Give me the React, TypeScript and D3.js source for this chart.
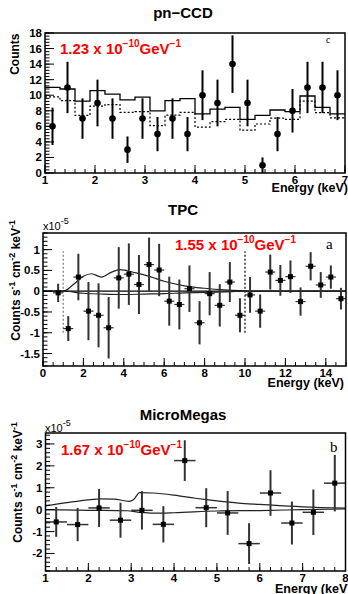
import * as d3 from "d3";

// pn-CCD: counts per 0.3 keV bin
const ccdEnergy = [1.15, 1.45, 1.75, 2.05, 2.35, 2.65, 2.95, 3.25, 3.55, 3.85, 4.15, 4.45, 4.75, 5.05, 5.35, 5.65, 5.95, 6.25, 6.55, 6.85];
const ccdCounts = [6, 11, 7, 9, 7, 3, 7, 5, 7, 5, 10, 9, 14, 9, 1, 5, 8, 11, 11, 10];
const ccdErr = [2.4, 3.3, 2.6, 3.0, 2.6, 1.7, 2.6, 2.2, 2.6, 2.2, 3.2, 3.0, 3.7, 3.0, 1.0, 2.2, 2.8, 3.3, 3.3, 3.2];
const ccdSignal = [11.0, 10.8, 9.25, 10.6, 10.15, 9.4, 9.75, 8.0, 9.3, 9.55, 7.6, 8.2, 8.45, 6.9, 7.4, 8.1, 7.9, 9.9, 8.45, 7.6];
const ccdBackground = [9.8, 9.3, 7.4, 8.6, 8.8, 7.8, 7.9, 6.1, 7.45, 7.8, 5.9, 6.6, 6.9, 5.5, 6.3, 7.05, 6.9, 9.25, 7.75, 7.1];

// TPC: subtracted rate (x1e-5)
const tpcEnergy = [0.75, 1.25, 1.75, 2.25, 2.75, 3.25, 3.75, 4.25, 4.75, 5.25, 5.75, 6.25, 6.75, 7.25, 7.75, 8.25, 8.75, 9.25, 9.75, 10.25, 10.75, 11.25, 11.75, 12.25, 12.75, 13.25, 13.75, 14.25, 14.75];
const tpcRate = [-0.04, -0.9, 0.34, -0.48, -0.58, -0.88, 0.32, 0.41, 0.16, 0.64, 0.51, -0.24, -0.32, 0.06, -0.76, -0.06, -0.34, 0.22, -0.58, -0.09, -0.48, 0.46, 0.26, 0.35, -0.25, 0.6, 0.15, 0.34, -0.18];
const tpcErr = [0.22, 0.3, 0.56, 0.7, 0.77, 0.74, 0.74, 0.74, 0.71, 0.65, 0.63, 0.59, 0.6, 0.56, 0.52, 0.52, 0.51, 0.48, 0.41, 0.43, 0.4, 0.42, 0.37, 0.39, 0.34, 0.34, 0.31, 0.28, 0.26];
const tpcSigE = [0, 1, 1.5, 2, 2.4, 2.9, 3.4, 3.8, 4.6, 5.3, 6, 7, 8, 9, 10, 11, 15];
const tpcSig = [0, 0, 0.16, 0.36, 0.42, 0.34, 0.46, 0.52, 0.44, 0.35, 0.24, 0.13, 0.07, 0.03, 0.01, 0, 0];
const tpcBgE = [0, 1, 2, 3, 4, 5, 6, 7, 8, 9, 10, 15];
const tpcBg = [0, 0, -0.05, -0.07, -0.08, -0.07, -0.06, -0.04, -0.03, -0.015, 0, 0];
const tpcCuts = [1, 10];

// MicroMegas: subtracted rate (x1e-5)
const mmEnergy = [1.25, 1.75, 2.25, 2.75, 3.25, 3.75, 4.25, 4.75, 5.25, 5.75, 6.25, 6.75, 7.25, 7.75];
const mmRate = [-0.56, -0.68, 0.08, -0.48, -0.03, -0.67, 2.24, 0.09, -0.15, -1.55, 0.76, -0.61, -0.12, 1.21];
const mmErr = [0.68, 0.76, 0.87, 0.8, 0.88, 0.83, 0.93, 0.89, 1.0, 0.93, 1.04, 0.98, 1.04, 1.29];
const mmSigE = [1, 1.5, 2, 2.3, 2.6, 2.95, 3.05, 3.2, 3.5, 4, 4.5, 5, 5.5, 6, 7, 8];
const mmSig = [0.17, 0.32, 0.45, 0.49, 0.48, 0.38, 0.45, 0.78, 0.76, 0.66, 0.52, 0.4, 0.3, 0.24, 0.13, 0.07];
const mmBgE = [1, 2, 2.9, 3.2, 3.5, 4, 5, 6, 7, 8];
const mmBg = [0, -0.03, -0.05, -0.12, -0.16, -0.14, -0.06, -0.04, 0, 0.03];

const FONT = "'Liberation Sans', Arial, Helvetica, sans-serif";
const SERIF = "'Liberation Serif', 'Times New Roman', serif";

type Scale = d3.ScaleLinear<number, number>;

function steps(lo: number, hi: number, step: number) {
  return d3.range(Math.round((hi - lo) / step) + 1).map((i) => +(lo + i * step).toFixed(4));
}

function Frame(props: {
  x: Scale; y: Scale; xMajor: number[]; xMinor: number[]; yMajor: number[]; yMinor: number[];
  yFmt?: (v: number) => string;
}) {
  const { x, y, xMajor, xMinor, yMajor, yMinor } = props;
  const fmt = props.yFmt ?? ((v: number) => String(v));
  const [x0, x1] = x.range();
  const [y0, y1] = y.range();
  return (
    <g>
      <rect x={x0} y={y1} width={x1 - x0} height={y0 - y1} fill="none" stroke="#000" strokeWidth={1.5} />
      {xMinor.map((v) => (
        <line key={"xm" + v} x1={x(v)} x2={x(v)} y1={y0} y2={y0 - 4} stroke="#000" strokeWidth={1} />
      ))}
      {xMajor.map((v) => (
        <g key={"xM" + v}>
          <line x1={x(v)} x2={x(v)} y1={y0} y2={y0 - 8} stroke="#000" strokeWidth={1} />
          <text x={x(v)} y={y0 + 11} textAnchor="middle" fontSize={11.5} fontWeight="bold" fontFamily={FONT}>{v}</text>
        </g>
      ))}
      {yMinor.map((v) => (
        <line key={"ym" + v} x1={x0} x2={x0 + 4.5} y1={y(v)} y2={y(v)} stroke="#000" strokeWidth={1} />
      ))}
      {yMajor.map((v) => (
        <g key={"yM" + v}>
          <line x1={x0} x2={x0 + 9} y1={y(v)} y2={y(v)} stroke="#000" strokeWidth={1} />
          <text x={x0 - 3} y={y(v) + 4} textAnchor="end" fontSize={11.5} fontWeight="bold" fontFamily={FONT}>{fmt(v)}</text>
        </g>
      ))}
    </g>
  );
}

function Coupling({ x, y, value }: { x: number; y: number; value: string }) {
  return (
    <text x={x} y={y} fill="#ff0000" fontSize={15} fontWeight="bold" fontFamily={FONT}>
      {value} x 10
      <tspan fontSize={10} dy={-7}>−10</tspan>
      <tspan dy={7}>GeV</tspan>
      <tspan fontSize={10} dy={-7}>−1</tspan>
    </text>
  );
}

function RateTitle({ x, top }: { x: number; top: number }) {
  return (
    <text transform={`translate(${x},${top}) rotate(-90)`} textAnchor="end" fontSize={12} fontWeight="bold" fontFamily={FONT}>
      Counts s<tspan fontSize={9} dy={-5}>-1</tspan>
      <tspan dy={5}> cm</tspan>
      <tspan fontSize={9} dy={-5}>-2</tspan>
      <tspan dy={5}> keV</tspan>
      <tspan fontSize={9} dy={-5}>-1</tspan>
    </text>
  );
}

function Exponent({ x, y }: { x: number; y: number }) {
  return (
    <text x={x} y={y} fontSize={11} fontFamily={FONT}>
      x10<tspan fontSize={9} dy={-6}>-5</tspan>
    </text>
  );
}

export default function App() {
  // pn-CCD panel
  const x1 = d3.scaleLinear().domain([1, 7]).range([45, 345]);
  const y1 = d3.scaleLinear().domain([0, 18]).range([173, 33]);
  const stepLine = (vals: number[]) => {
    const pts: [number, number][] = ccdEnergy.map((e, i) => [e - 0.15, vals[i]]);
    pts.push([ccdEnergy[ccdEnergy.length - 1] + 0.15, vals[vals.length - 1]]);
    return d3.line<[number, number]>().x((d) => x1(d[0])).y((d) => y1(d[1])).curve(d3.curveStepAfter)(pts) ?? "";
  };

  // TPC panel
  const x2 = d3.scaleLinear().domain([0, 15]).range([43, 346]);
  const y2 = d3.scaleLinear().domain([-1.8, 1.4]).range([366, 233]);

  // MicroMegas panel
  const x3 = d3.scaleLinear().domain([1, 8]).range([45.5, 345.5]);
  const y3 = d3.scaleLinear().domain([-2.8, 3.5]).range([571, 433]);

  const curve = (xs: number[], ys: number[], x: Scale, y: Scale) =>
    d3.line<number>().x((_, i) => x(xs[i])).y((d) => y(d)).curve(d3.curveMonotoneX)(ys) ?? "";

  const rateFmt = (v: number) => (v === 0 ? "0" : String(v));

  return (
    <svg width={348} height={594} style={{ position: "absolute", left: 0, top: 0, background: "#fff" }}>
      {/* ---------- pn-CCD ---------- */}
      <text x={183} y={18} textAnchor="middle" fontSize={15} fontWeight="bold" fontFamily={FONT}>pn−CCD</text>
      <text transform="translate(18.5,33.5) rotate(-90)" textAnchor="end" fontSize={12} fontWeight="bold" fontFamily={FONT}>Counts</text>
      <path d={stepLine(ccdSignal)} fill="none" stroke="#000" strokeWidth={1.3} />
      <path d={stepLine(ccdBackground)} fill="none" stroke="#000" strokeWidth={1.2} strokeDasharray="2,2" />
      {ccdEnergy.map((e, i) => (
        <g key={"c" + i}>
          <line x1={x1(e)} x2={x1(e)} y1={y1(Math.max(0, ccdCounts[i] - ccdErr[i]))} y2={y1(ccdCounts[i] + ccdErr[i])} stroke="#000" strokeWidth={2} />
          <circle cx={x1(e)} cy={y1(ccdCounts[i])} r={3.3} fill="#000" />
        </g>
      ))}
      <Frame x={x1} y={y1} xMajor={steps(1, 7, 1)} xMinor={steps(1, 7, 0.2)} yMajor={steps(0, 18, 2)} yMinor={steps(0, 18, 0.4)} />
      <Coupling x={60} y={54} value="1.23" />
      <text x={326} y={43} fontSize={10} fontFamily={SERIF}>c</text>
      <text x={348} y={192} textAnchor="end" fontSize={12.5} fontWeight="bold" fontFamily={FONT}>Energy (keV)</text>

      {/* ---------- TPC ---------- */}
      <text x={183} y={215} textAnchor="middle" fontSize={15} fontWeight="bold" fontFamily={FONT}>TPC</text>
      <Exponent x={43} y={230} />
      <RateTitle x={20} top={220} />
      {tpcCuts.map((c, i) => (
        <line key={"cut" + c} x1={x2(c)} x2={x2(c)} y1={y2(-1.0)} y2={y2(0.96)} stroke={i === 0 ? "#777" : "#000"} strokeWidth={1.2} strokeDasharray="2,2" />
      ))}
      <line x1={x2(0)} x2={x2(15)} y1={y2(0)} y2={y2(0)} stroke="#000" strokeWidth={1.2} />
      <path d={curve(tpcSigE, tpcSig, x2, y2)} fill="none" stroke="#222" strokeWidth={1.2} />
      <path d={curve(tpcBgE, tpcBg, x2, y2)} fill="none" stroke="#222" strokeWidth={1.2} />
      {tpcEnergy.map((e, i) => (
        <g key={"t" + i} stroke="#333">
          <line x1={x2(e)} x2={x2(e)} y1={y2(tpcRate[i] - tpcErr[i])} y2={y2(tpcRate[i] + tpcErr[i])} strokeWidth={2} />
          <line x1={x2(e - 0.25)} x2={x2(e + 0.25)} y1={y2(tpcRate[i])} y2={y2(tpcRate[i])} strokeWidth={1.2} />
          <rect x={x2(e) - 2.5} y={y2(tpcRate[i]) - 2.5} width={5} height={5} fill="#000" stroke="none" />
        </g>
      ))}
      <Frame x={x2} y={y2} xMajor={steps(0, 14, 2)} xMinor={steps(0, 15, 0.5)} yMajor={steps(-1.5, 1, 0.5)} yMinor={steps(-1.8, 1.4, 0.1)} yFmt={rateFmt} />
      <Coupling x={175} y={250} value="1.55" />
      <text x={326} y={249} fontSize={15} fontFamily={SERIF}>a</text>
      <text x={344} y={387} textAnchor="end" fontSize={12.5} fontWeight="bold" fontFamily={FONT}>Energy (keV)</text>

      {/* ---------- MicroMegas ---------- */}
      <text x={183} y={420} textAnchor="middle" fontSize={15} fontWeight="bold" fontFamily={FONT}>MicroMegas</text>
      <Exponent x={45} y={432} />
      <RateTitle x={22} top={422} />
      <path d={curve(mmSigE, mmSig, x3, y3)} fill="none" stroke="#222" strokeWidth={1.2} />
      <path d={curve(mmBgE, mmBg, x3, y3)} fill="none" stroke="#222" strokeWidth={1.2} />
      {mmEnergy.map((e, i) => (
        <g key={"m" + i} stroke="#333">
          <line x1={x3(e)} x2={x3(e)} y1={y3(mmRate[i] - mmErr[i])} y2={y3(mmRate[i] + mmErr[i])} strokeWidth={2} />
          <line x1={x3(e - 0.25)} x2={x3(e + 0.25)} y1={y3(mmRate[i])} y2={y3(mmRate[i])} strokeWidth={1.5} />
          <rect x={x3(e) - 2.5} y={y3(mmRate[i]) - 2.5} width={5} height={5} fill="#000" stroke="none" />
        </g>
      ))}
      <Frame x={x3} y={y3} xMajor={steps(1, 8, 1)} xMinor={steps(1, 8, 0.25)} yMajor={steps(-2, 3, 1)} yMinor={steps(-2.8, 3.4, 0.2)} />
      <Coupling x={61} y={455} value="1.67" />
      <text x={330} y={452} fontSize={15} fontFamily={SERIF}>b</text>
      <text x={275} y={593} fontSize={12.5} fontWeight="bold" fontFamily={FONT}>Energy (keV)</text>
    </svg>
  );
}
